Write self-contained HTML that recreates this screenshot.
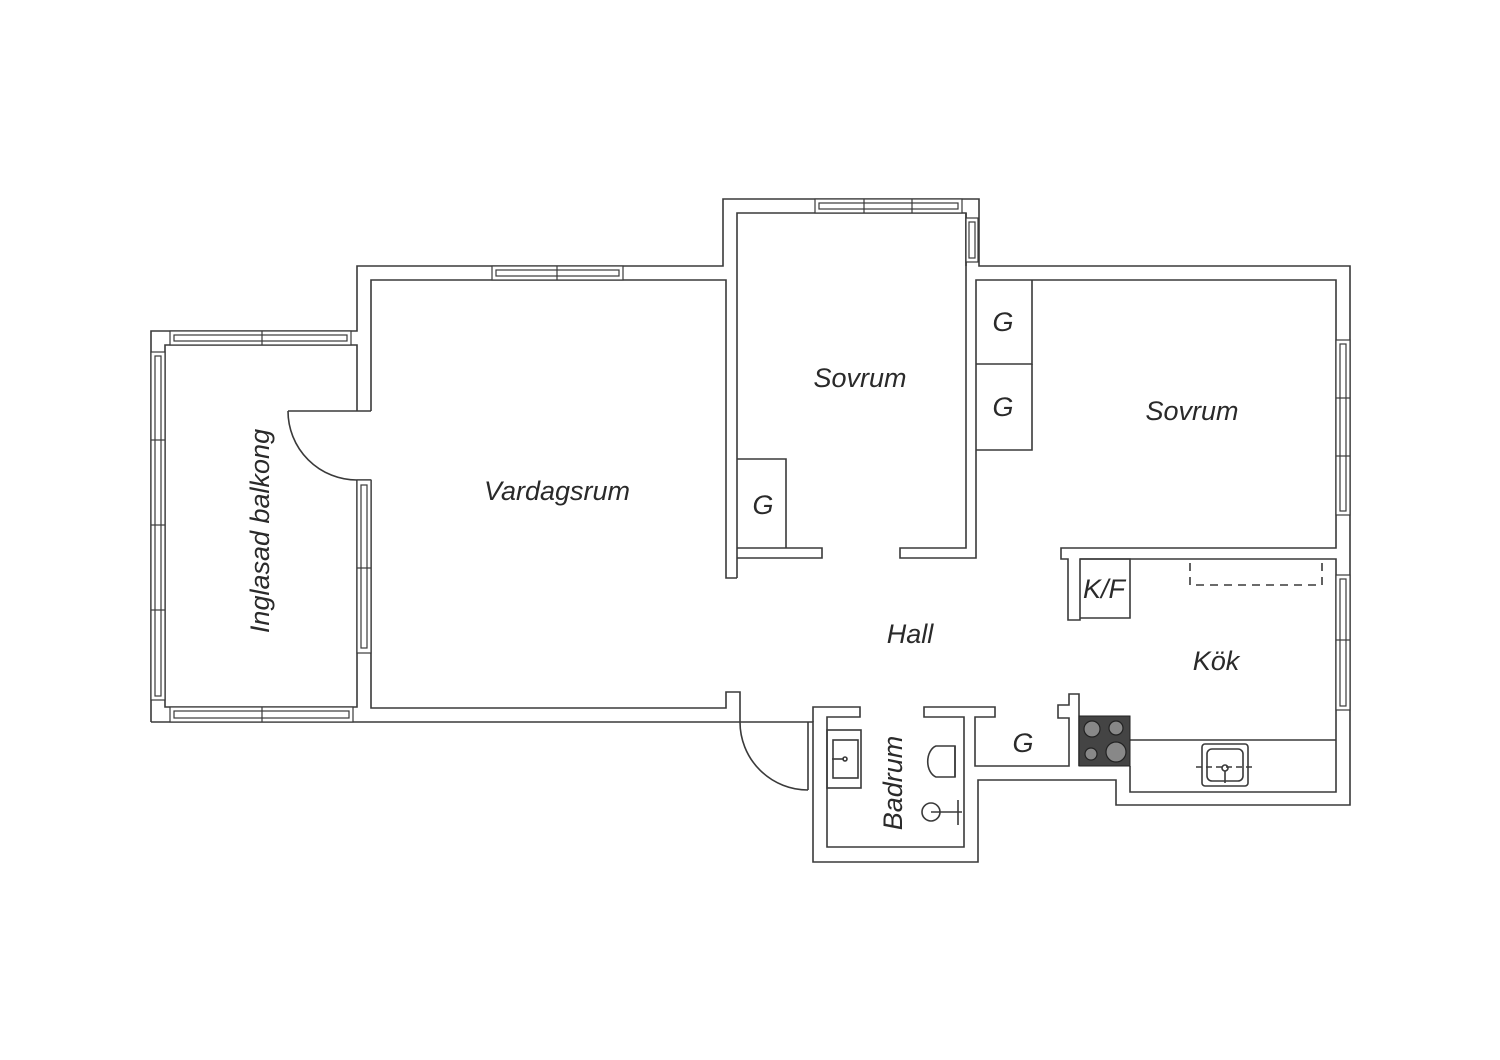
<!DOCTYPE html>
<html><head><meta charset="utf-8"><style>
html,body{margin:0;padding:0;background:#fff;}
svg{display:block;}
text{font-family:"Liberation Sans",sans-serif;font-style:italic;fill:#2a2a2a;}
</style></head><body>
<svg width="1500" height="1060" viewBox="0 0 1500 1060" xmlns="http://www.w3.org/2000/svg">
<g fill="none" stroke="#3a3a3a" stroke-width="1.6">
<polyline points="151,722 151,331 357,331 357,266 723,266 723,199 979,199 979,266 1350,266 1350,805 1116,805 1116,780 978,780 978,862 813,862 813,722 151,722"/>
<polyline points="357,411 357,345 165,345 165,707 357,707 357,480"/>
<line x1="288" y1="411" x2="371" y2="411"/>
<path d="M288,411 A69,69 0 0 0 357,480"/>
<line x1="357" y1="480" x2="371" y2="480"/>
<polyline points="371,411 371,280 726,280 726,578 737,578"/>
<polyline points="371,480 371,708 726,708 726,692 740,692 740,722"/>
<polyline points="737,578 737,213 966,213 966,548 900,548 900,558 976,558 976,280 1336,280 1336,548 1061,548 1061,559 1068,559 1068,620 1080,620 1080,559 1336,559 1336,792 1130,792 1130,766"/>
<polyline points="737,558 822,558 822,548 737,548"/>
<line x1="966" y1="213" x2="966" y2="266"/>
<polyline points="737,459 786,459 786,548"/>
<polyline points="976,364 1032,364 1032,280"/>
<polyline points="1032,364 1032,450 976,450"/>
<polyline points="1080,559 1130,559 1130,618 1080,618"/>
<polyline points="1190,563 1190,585 1322,585 1322,563" stroke-dasharray="8,6"/>
<line x1="1130" y1="740" x2="1336" y2="740"/>
<polyline points="1079,766 1079,694 1069,694 1069,705 1058,705 1058,718 1069,718 1069,766 975,766 975,717 995,717 995,707 924,707 924,717 964,717 964,847 827,847 827,717 860,717 860,707 813,707 813,722"/>
<path d="M740,722 A68,68 0 0 0 808,790"/>
<line x1="808" y1="722" x2="808" y2="790"/>
<rect x="827" y="730" width="34" height="58"/>
<rect x="833" y="740" width="25" height="38"/>
<line x1="832" y1="759" x2="844" y2="759"/>
<circle cx="845" cy="759" r="2"/>
<path d="M955,746 L936,746 A11,16 0 0 0 936,777 L955,777 Z"/>
<line x1="955" y1="746" x2="955" y2="777"/>
<circle cx="931" cy="812" r="9"/>
<line x1="931" y1="812" x2="962" y2="812"/>
<line x1="958" y1="800" x2="958" y2="825"/>
<rect x="1202" y="744" width="46" height="42" rx="3"/>
<rect x="1207" y="749" width="36" height="32" rx="5"/>
<line x1="1196" y1="767" x2="1254" y2="767" stroke-dasharray="6,4"/>
<circle cx="1225" cy="768" r="3"/>
<line x1="1225" y1="771" x2="1225" y2="783"/>
</g>
<rect x="1079" y="716" width="51" height="50" fill="#444" stroke="#222"/>
<g fill="#888" stroke="#222" stroke-width="1.2">
<circle cx="1092" cy="729" r="8"/><circle cx="1116" cy="728" r="7"/>
<circle cx="1091" cy="754" r="6"/><circle cx="1116" cy="752" r="10"/>
</g>
<g fill="#fff" stroke="#3a3a3a" stroke-width="1.2">
<rect x="170" y="331" width="181" height="14"/><rect x="174" y="335" width="173" height="6"/><line x1="262" y1="331" x2="262" y2="345"/>
<rect x="170" y="707" width="183" height="15"/><rect x="174" y="711" width="175" height="7"/><line x1="262" y1="707" x2="262" y2="722"/>
<rect x="151" y="352" width="14" height="348"/><rect x="155" y="356" width="6" height="340"/><line x1="151" y1="440" x2="165" y2="440"/><line x1="151" y1="525" x2="165" y2="525"/><line x1="151" y1="610" x2="165" y2="610"/>
<rect x="357" y="480" width="14" height="173"/><rect x="361" y="485" width="6" height="163"/><line x1="357" y1="568" x2="371" y2="568"/>
<rect x="492" y="266" width="131" height="14"/><rect x="496" y="270" width="123" height="6"/><line x1="557" y1="266" x2="557" y2="280"/>
<rect x="815" y="199" width="147" height="14"/><rect x="819" y="203" width="139" height="6"/><line x1="864" y1="199" x2="864" y2="213"/><line x1="912" y1="199" x2="912" y2="213"/>
<rect x="966" y="218" width="12" height="44"/><rect x="969" y="222" width="6" height="36"/>
<rect x="1336" y="340" width="14" height="175"/><rect x="1340" y="344" width="6" height="167"/><line x1="1336" y1="398" x2="1350" y2="398"/><line x1="1336" y1="456" x2="1350" y2="456"/>
<rect x="1336" y="575" width="14" height="135"/><rect x="1340" y="579" width="6" height="127"/><line x1="1336" y1="640" x2="1350" y2="640"/>
</g>
<g font-size="27">
<text x="557" y="500" text-anchor="middle">Vardagsrum</text>
<text x="860" y="387" text-anchor="middle">Sovrum</text>
<text x="1192" y="420" text-anchor="middle">Sovrum</text>
<text x="910" y="643" text-anchor="middle">Hall</text>
<text x="1216" y="670" text-anchor="middle">Kök</text>
<text x="763" y="514" text-anchor="middle">G</text>
<text x="1003" y="331" text-anchor="middle">G</text>
<text x="1003" y="416" text-anchor="middle">G</text>
<text x="1023" y="752" text-anchor="middle">G</text>
<text x="1104" y="598" text-anchor="middle">K/F</text>
<text transform="translate(269,531) rotate(-90)" text-anchor="middle">Inglasad balkong</text>
<text transform="translate(902,783) rotate(-90)" text-anchor="middle">Badrum</text>
</g>
</svg>
</body></html>
